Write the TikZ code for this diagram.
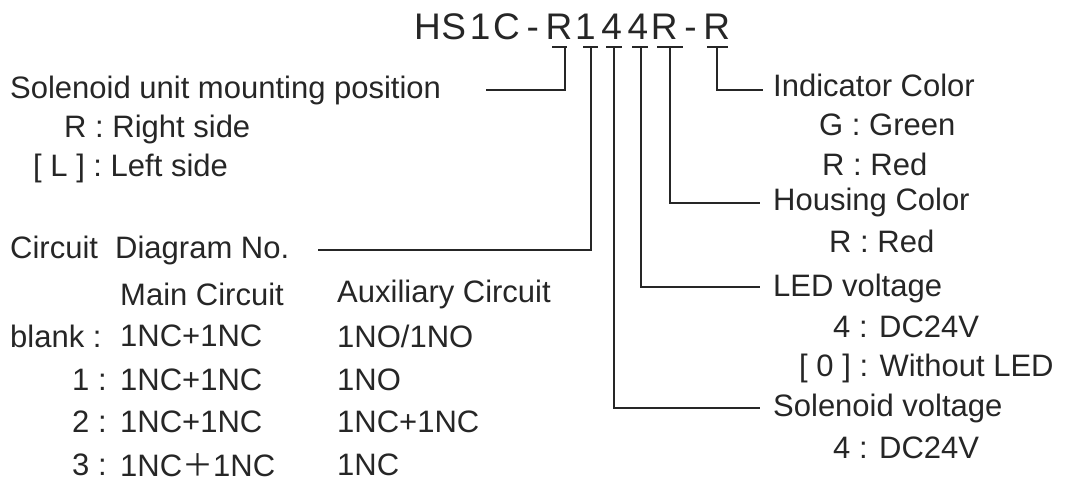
\documentclass[tikz,border=0pt]{standalone}
\usepackage{fontspec}
\setmainfont{Liberation Sans}
\newfontfamily\cjk{Noto Sans CJK SC}
\begin{document}
\begin{tikzpicture}[x=1pt,y=-1pt,
  t/.style={anchor=west,inner sep=0pt,font=\fontsize{31}{34}\selectfont,text=black!85},
  h/.style={anchor=base,inner sep=0pt,font=\fontsize{37}{40}\selectfont,text=black!85},
  ln/.style={line width=2.2pt,black!85}]
\useasboundingbox (0,0) rectangle (1078,485);
% title characters
\foreach \c [count=\i from 0] in {H,S,1,C,-,R,1,4,4,R,-,R}{
  \node[h] (c\i) at ({559+26.3*(\i-5)},39) {\c};
}
% bars
\foreach \i/\a/\b in {5/552/567,6/583/598,7/606/622,8/632/648,9/657/683,11/707/728}{
  \draw[ln] (\a,47) -- (\b,47);
}
% left texts
\node[t] (sol) at (10,90) {Solenoid unit mounting position};
\node[t] at (64,129) {R : Right side};
\node[t] at (33,168) {[ L ] : Left side};
\node[t] (cir) at (10,250) {Circuit\ \ Diagram No.};
\node[t] at (120,294) {Main Circuit};
\node[t] at (337,294) {Auxiliary Circuit};
\node[t] at (10,336) {blank :};
\node[t] at (72,380) {1 :};
\node[t] at (72,422) {2 :};
\node[t] at (72,465) {3 :};
\node[t] at (120,336) {1NC+1NC};
\node[t] at (120,380) {1NC+1NC};
\node[t] at (120,422) {1NC+1NC};
\node[t] at (120,465) {1NC{\cjk ＋}1NC};
\node[t] at (337,336) {1NO/1NO};
\node[t] at (337,380) {1NO};
\node[t] at (337,422) {1NC+1NC};
\node[t] at (337,465) {1NC};
% right texts
\node[t] (ind) at (773,85) {Indicator Color};
\node[t] at (819,125) {G : Green};
\node[t] at (822,164) {R : Red};
\node[t] (hou) at (773,202) {Housing Color};
\node[t] at (829,241) {R : Red};
\node[t] (led) at (773,288) {LED voltage};
\node[t] at (833,327) {4 : DC24V};
\node[t] at (799,368) {[ 0 ] : Without LED};
\node[t] (sv) at (773,408) {Solenoid voltage};
\node[t] at (833,448) {4 : DC24V};
% connectors
\coordinate (p5) at (565,47); \coordinate (p6) at (591,47);
\coordinate (p7) at (614,47); \coordinate (p8) at (641,47);
\coordinate (p9) at (670,47); \coordinate (p11) at (717,47);
\draw[ln] (p5) |- (486,90);
\draw[ln] (p6) |- (318,250);
\draw[ln] (p11) |- (763,90);
\draw[ln] (p9) |- (760,203);
\draw[ln] (p8) |- (760,287);
\draw[ln] (p7) |- (760,408);
\end{tikzpicture}
\end{document}
